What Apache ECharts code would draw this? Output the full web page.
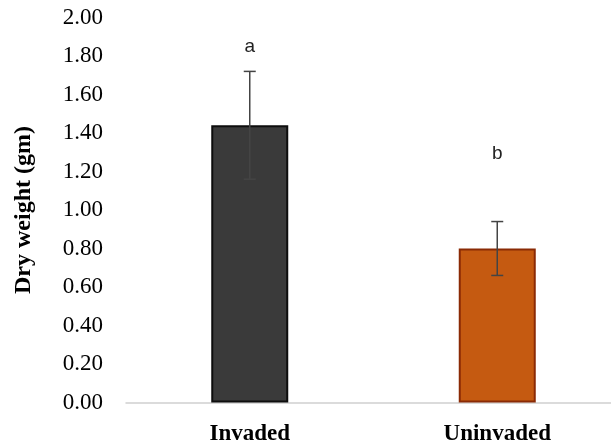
<!DOCTYPE html>
<html>
<head>
<meta charset="utf-8">
<script src="https://cdn.jsdelivr.net/npm/echarts@6/dist/echarts.min.js"></script>
<style>html,body{margin:0;padding:0;background:#fff;overflow:hidden;width:611px;height:446px}#c{width:640px;height:446px}</style>
</head>
<body>
<div id="c"></div>
<script>
const categories = ['Invaded', 'Uninvaded'];
const means = [1.44, 0.80];
const errors = [0.28, 0.14];
const letters = ['a', 'b'];
const letterHeights = [1.85, 1.29];
const yTicks = [0, 2, 0.2];

const barColors = ['#3a3a3a', '#c55a11'];
const barBorders = ['#0d0d0d', '#8a2a05'];

const chart = echarts.init(document.getElementById('c'), null, {renderer: 'canvas'});
chart.setOption({
  animation: false,
  backgroundColor: '#fff',
  grid: {left: 126, top: 17.5, width: 495, height: 385},
  xAxis: {
    type: 'category',
    data: categories,
    axisLine: {lineStyle: {color: '#d0d0d0', width: 1.5}},
    axisTick: {show: false},
    axisLabel: {fontFamily: 'Liberation Serif', fontWeight: 'bold', fontSize: 23, color: '#000', margin: 20}
  },
  yAxis: {
    type: 'value',
    min: yTicks[0], max: yTicks[1], interval: yTicks[2],
    name: 'Dry weight (gm)',
    nameLocation: 'middle',
    nameGap: 90,
    nameTextStyle: {fontFamily: 'Liberation Serif', fontWeight: 'bold', fontSize: 24, color: '#000'},
    axisLine: {show: false},
    axisTick: {show: false},
    splitLine: {show: false},
    axisLabel: {fontFamily: 'Liberation Serif', fontSize: 23, color: '#000', margin: 23,
      formatter: v => v.toFixed(2)}
  },
  series: [
    {
      type: 'bar',
      barWidth: 77,
      data: means.map((v, i) => ({value: v, itemStyle: {color: barColors[i], borderColor: barBorders[i], borderWidth: 2}})),
      z: 2
    },
    {
      type: 'custom',
      z: 5,
      data: means.map((m, i) => [i, m - errors[i], m + errors[i]]),
      renderItem: function (params, api) {
        const x = api.value(0);
        const lo = api.coord([x, api.value(1)]);
        const hi = api.coord([x, api.value(2)]);
        const hw = 6;
        const st = {stroke: '#444', lineWidth: 1.5};
        return {type: 'group', children: [
          {type: 'line', shape: {x1: lo[0], y1: lo[1], x2: hi[0], y2: hi[1]}, style: st},
          {type: 'line', shape: {x1: lo[0] - hw, y1: lo[1], x2: lo[0] + hw, y2: lo[1]}, style: st},
          {type: 'line', shape: {x1: hi[0] - hw, y1: hi[1], x2: hi[0] + hw, y2: hi[1]}, style: st}
        ]};
      }
    },
    {
      type: 'custom',
      z: 6,
      data: letterHeights.map((h, i) => [i, h, letters[i]]),
      renderItem: function (params, api) {
        const p = api.coord([api.value(0), api.value(1)]);
        return {type: 'text', style: {text: letters[params.dataIndex], x: p[0], y: p[1],
          align: 'center', verticalAlign: 'middle', fontFamily: 'Liberation Sans', fontSize: 19, fill: '#222'}};
      }
    }
  ]
});
</script>
</body>
</html>
